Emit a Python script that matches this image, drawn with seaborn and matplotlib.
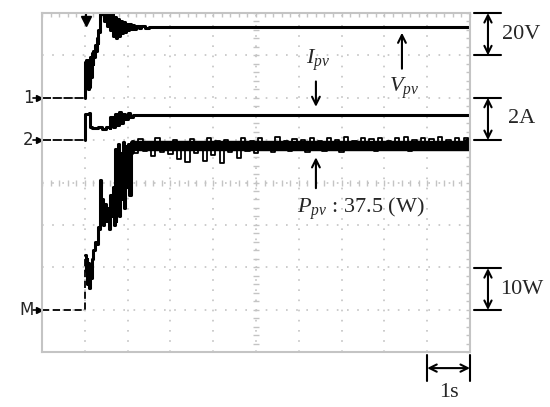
import numpy as np
import pandas as pd
import seaborn as sns
import matplotlib.pyplot as plt

# screen units: x = time (1 s/div, 10 div), y = divisions (8 div)
# ch1: Vpv, 20 V/div, reference at 6 div
vpv_pre_t = [0.0, 1.0]
vpv_pre = [6.0, 6.0]
vpv_t = [1.0, 1.01, 1.02, 1.03, 1.04, 1.05, 1.06, 1.07, 1.08, 1.09, 1.10, 1.11,
         1.12, 1.13, 1.14, 1.16, 1.18, 1.20, 1.22, 1.24, 1.26, 1.28, 1.30, 1.32,
         1.34, 1.36, 1.40, 1.45, 1.50, 1.53, 1.56, 1.60, 1.63, 1.66, 1.70, 1.73,
         1.76, 1.80, 1.83, 1.86, 1.90, 1.93, 1.96, 2.00, 2.04, 2.08, 2.12, 2.16,
         2.20, 2.26, 2.32, 2.40, 2.50, 10.0]
vpv = [6.0, 6.85, 6.35, 6.90, 6.25, 6.75, 6.30, 6.88, 6.20, 6.60, 6.25, 6.80,
       6.35, 6.95, 6.50, 7.05, 6.80, 7.10, 6.95, 7.25, 7.10, 7.40, 7.30, 7.60,
       7.55, 7.97, 7.97, 7.80, 7.97, 7.70, 7.97, 7.60, 7.97, 7.45, 7.90, 7.40,
       7.85, 7.45, 7.80, 7.52, 7.78, 7.55, 7.75, 7.60, 7.74, 7.62, 7.72, 7.63,
       7.70, 7.64, 7.70, 7.65, 7.68, 7.68]

# ch2: Ipv, 2 A/div, reference at 5 div
ipv_pre_t = [0.0, 1.0]
ipv_pre = [5.0, 5.0]
ipv_t = [1.0, 1.01, 1.10, 1.12, 1.17, 1.30, 1.40, 1.50, 1.58, 1.60, 1.65, 1.70,
         1.75, 1.80, 1.85, 1.90, 1.95, 2.00, 2.05, 2.13, 10.0]
ipv = [5.0, 5.62, 5.64, 5.30, 5.28, 5.30, 5.26, 5.30, 5.28, 5.55, 5.30, 5.62,
       5.35, 5.66, 5.40, 5.62, 5.50, 5.63, 5.55, 5.60, 5.60]

# math channel: Ppv, 10 W/div, reference at 1 div
ppv_pre_t = [0.0, 1.0, 1.0]
ppv_pre = [1.0, 1.0, 2.3]
ppv_t = [1.0, 1.02, 1.04, 1.06, 1.08, 1.10, 1.12, 1.14, 1.17, 1.20, 1.23, 1.27,
         1.30, 1.34, 1.36, 1.38, 1.40, 1.43, 1.46, 1.50, 1.53, 1.56, 1.60, 1.63,
         1.66, 1.68, 1.70, 1.72, 1.74, 1.76, 1.78, 1.80, 1.83, 1.86, 1.89, 1.92,
         1.95, 1.98, 2.01, 2.04, 2.07, 2.10]
ppv = [2.3, 1.90, 2.20, 1.60, 2.10, 1.50, 2.00, 1.75, 2.20, 2.40, 2.60, 2.55,
       2.95, 2.90, 4.06, 3.40, 3.60, 3.00, 3.50, 3.10, 3.40, 2.90, 3.70, 3.20,
       3.90, 3.00, 4.80, 3.10, 4.60, 3.30, 4.90, 3.20, 4.70, 3.60, 4.95, 3.40,
       4.85, 3.90, 4.90, 3.70, 4.95, 4.70]
ppv_level = 4.85
ppv_noise = [4.98, 4.70, 5.02, 4.75, 4.95, 4.62, 5.05, 4.72, 4.90, 4.68,
             5.00, 4.55, 4.96, 4.48, 5.03, 4.70, 4.92, 4.50, 5.06, 4.66,
             4.97, 4.46, 5.01, 4.72, 4.94, 4.58, 5.04, 4.74, 4.99, 4.70,
             5.05, 4.78, 4.96, 4.72, 5.08, 4.80, 4.98, 4.74, 5.03, 4.77,
             5.00, 4.72, 5.06, 4.79, 4.97, 4.75, 5.04, 4.80, 5.01, 4.73,
             5.07, 4.78, 4.99, 4.76, 5.05, 4.81, 5.02, 4.74, 5.06, 4.79,
             4.98, 4.77, 5.04, 4.80, 5.07, 4.75, 5.00, 4.79, 5.05, 4.82,
             5.03, 4.78, 5.08, 4.81, 5.00, 4.77, 5.06, 4.83, 5.04, 4.80]
noise_t = np.round(2.1 + 0.1 * np.arange(len(ppv_noise)), 2)

sns.set_style("white")
plt.rcParams['font.family'] = ['Liberation Serif', 'DejaVu Serif']
plt.rcParams['mathtext.fontset'] = 'custom'
plt.rcParams['mathtext.rm'] = 'Liberation Serif'
plt.rcParams['mathtext.it'] = 'Liberation Serif:italic'

fig = plt.figure(figsize=(5.5, 4.07), dpi=100)
ax = fig.add_axes([42 / 550, 55 / 407, 428 / 550, 339 / 407])
ax.set_xlim(0, 10)
ax.set_ylim(0, 8)

# scope graticule
grid_c = '#c4c4c4'
ax.set_xticks(np.arange(0, 11, 1))
ax.set_yticks(np.arange(0, 9, 1))
ax.set_xticks(np.arange(0, 10.01, 0.2), minor=True)
ax.set_yticks(np.arange(0, 8.01, 0.2), minor=True)
ax.tick_params(which='both', direction='in', length=3, color=grid_c, width=1,
               top=True, right=True, labelbottom=False, labelleft=False)
ax.grid(True, which='major', color=grid_c, lw=1.2, linestyle=(0, (1, 5.1)))
for s in ax.spines.values():
    s.set_color(grid_c)
    s.set_linewidth(1.5)
mt = np.arange(0, 10.01, 0.2)
ax.plot(mt, np.full(len(mt), 4.0), ls='none', marker='|', ms=5, mew=1, color=grid_c)
mv = np.arange(0, 8.01, 0.2)
ax.plot(np.full(len(mv), 5.0), mv, ls='none', marker='_', ms=5, mew=1, color=grid_c)

# traces
sns.lineplot(x=vpv_pre_t, y=vpv_pre, ax=ax, color='k', lw=1.3,
             linestyle=(0, (5, 1)))
sns.lineplot(x=ipv_pre_t, y=ipv_pre, ax=ax, color='k', lw=1.3,
             linestyle=(0, (5, 1)))
ax.plot(ppv_pre_t, ppv_pre, color='k', lw=1.3, linestyle=(0, (4, 2)))

sns.lineplot(x=vpv_t, y=vpv, ax=ax, estimator=None, sort=False, color='k', lw=2.2,
             drawstyle='steps-post')
sns.lineplot(x=ipv_t, y=ipv, ax=ax, estimator=None, sort=False, color='k', lw=2.2,
             drawstyle='steps-post')
sns.lineplot(x=ppv_t, y=ppv, ax=ax, estimator=None, sort=False, color='k', lw=2.2,
             drawstyle='steps-post')
ax.plot([2.1, 10.0], [ppv_level, ppv_level], color='k', lw=7.5, solid_capstyle='butt')
sns.lineplot(x=noise_t, y=ppv_noise, ax=ax, estimator=None, sort=False, color='k',
             lw=1.3, drawstyle='steps-mid')

# channel markers
mk = dict(fontsize=12, family='DejaVu Sans', ha='right', va='center')
ax.text(-0.2, 6.0, '1', **mk)
ax.text(-0.2, 5.0, '2', **mk)
ax.text(-0.2, 1.0, 'M', **mk)
for yy in (6.0, 5.0, 1.0):
    ax.plot([-0.2, -0.02], [yy, yy], color='k', lw=1.2, clip_on=False)
    ax.plot([-0.08], [yy], marker='>', ms=4, color='k', clip_on=False)
ax.plot([1.03], [7.82], marker='v', ms=7, color='k', clip_on=False)
ax.plot([1.03, 1.03], [7.82, 7.98], color='k', lw=1.5)
ax.plot([9.93], [5.0], marker='<', ms=5, color='k')

# trace labels
arr = dict(arrowstyle='->', lw=1.5, color='k', mutation_scale=14)
ax.text(6.45, 6.89, r'$I_{pv}$', fontsize=16, ha='center', va='center')
ax.annotate('', xy=(6.40, 5.72), xytext=(6.40, 6.45), arrowprops=arr)
ax.text(8.45, 6.23, r'$V_{pv}$', fontsize=16, ha='center', va='center')
ax.annotate('', xy=(8.41, 7.60), xytext=(8.41, 6.62), arrowprops=arr)
ax.annotate('', xy=(6.40, 4.66), xytext=(6.40, 3.80), arrowprops=arr)
ax.text(5.95, 3.37, r'$P_{pv}$ : 37.5 (W)', fontsize=16, ha='left', va='center')

# scale bars
bar = dict(arrowstyle='<->', lw=1.5, color='k', mutation_scale=13,
           shrinkA=0, shrinkB=0)
for y0, y1, lab in ((8.0, 7.0, '20V'), (6.0, 5.0, '2A'), (1.98, 0.99, '10W')):
    ax.annotate('', xy=(10.42, y0), xytext=(10.42, y1), arrowprops=bar,
                annotation_clip=False)
    ax.plot([10.1, 10.72], [y0, y0], color='k', lw=1.5, clip_on=False)
    ax.plot([10.1, 10.72], [y1, y1], color='k', lw=1.5, clip_on=False)
    ax.text(11.2, (y0 + y1) / 2, lab, fontsize=16, ha='center', va='center')

ax.annotate('', xy=(9.0, -0.38), xytext=(10.0, -0.38), arrowprops=bar,
            annotation_clip=False)
ax.plot([9.0, 9.0], [-0.08, -0.68], color='k', lw=1.5, clip_on=False)
ax.plot([10.0, 10.0], [-0.08, -0.68], color='k', lw=1.5, clip_on=False)
ax.text(9.5, -0.95, '1s', fontsize=16, ha='center', va='center')

fig.savefig('out.png', dpi=100)
